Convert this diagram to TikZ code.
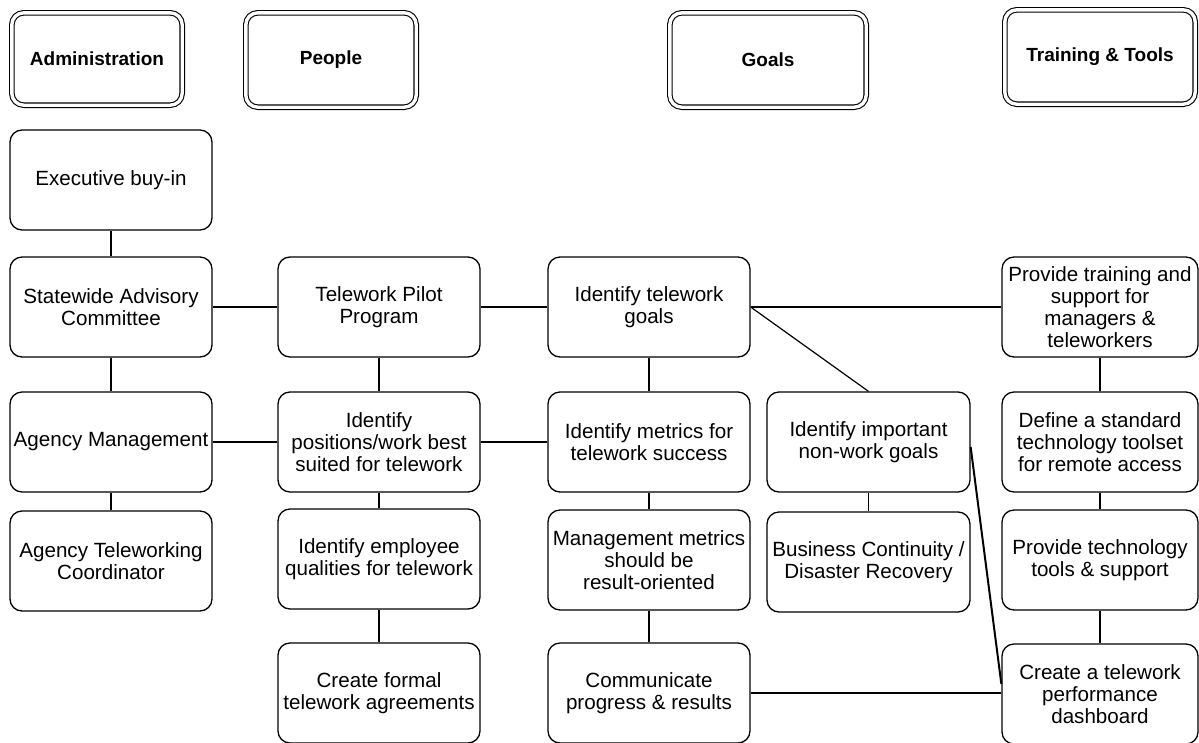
\documentclass[tikz,border=0pt]{standalone}
\usepackage{fontspec}
\setmainfont{Liberation Sans}
\begin{document}
\begin{tikzpicture}[x=1pt,y=-1pt,
  box/.style={draw, line width=1.3pt, rounded corners=12pt, align=center,
    font=\fontsize{20.6}{22}\selectfont, inner sep=1pt, minimum height=100pt},
  c1/.style={box, minimum width=202pt},
  c2/.style={box, minimum width=202pt},
  c3/.style={box, minimum width=202pt},
  c4/.style={box, minimum width=203pt},
  c5/.style={box, minimum width=196pt},
  hdr/.style={draw, double, line width=1.1pt, double distance=3.4pt,
    rounded corners=12pt, align=center, minimum height=94.4pt,
    font=\bfseries\fontsize{19}{22}\selectfont},
  link/.style={line width=1.2pt}
]
\useasboundingbox (0,0) rectangle (1199,742);

% headers
\node[hdr, minimum width=170.4pt, minimum height=92.4pt] (hadm) at (97,59) {Administration};
\node[hdr, minimum width=170.4pt] (hppl) at (331,60) {People};
\node[hdr, minimum width=196.4pt] (hgoal) at (768,60) {Goals};
\node[hdr, minimum width=190.4pt] (htt) at (1100,57) {Training \& Tools};

% column 1
\node[c1] (exec) at (111,180) {Executive buy-in};
\node[c1] (state) at (111,307) {Statewide Advisory\\Committee};
\node[c1] (agm) at (111,442) {Agency Management};
\node[c1] (coord) at (111,561) {Agency Teleworking\\Coordinator};

% column 2
\node[c2] (pilot) at (379,307) {Telework Pilot\\Program};
\node[c2] (pos) at (379,442) {Identify\\positions/work best\\suited for telework};
\node[c2] (qual) at (379,559) {Identify employee\\qualities for telework};
\node[c2] (agree) at (379,693) {Create formal\\telework agreements};

% column 3
\node[c3] (goals) at (649,307) {Identify telework\\goals};
\node[c3] (metr) at (649,442) {Identify metrics for\\telework success};
\node[c3] (mgmt) at (649,560) {Management metrics\\should be\\result-oriented};
\node[c3] (comm) at (649,693) {Communicate\\progress \& results};

% column 4
\node[c4] (nonw) at (868.5,442) {Identify important\\non-work goals};
\node[c4] (bcdr) at (868.5,562) {Business Continuity /\\Disaster Recovery};

% column 5
\node[c5] (train) at (1100,307) {Provide training and\\support for\\managers \&\\teleworkers};
\node[c5] (toolset) at (1100,442) {Define a standard\\technology toolset\\for remote access};
\node[c5] (tools) at (1100,560) {Provide technology\\tools \& support};
\node[c5] (dash) at (1100,694) {Create a telework\\performance\\dashboard};

% vertical links
\draw[link] (exec) -- (state);
\draw[link] (state) -- (agm);
\draw[link] (agm) -- (coord);
\draw[link] (pilot) -- (pos);
\draw[link] (pos) -- (qual);
\draw[link] (qual) -- (agree);
\draw[link] (goals) -- (metr);
\draw[link] (metr) -- (mgmt);
\draw[link] (mgmt) -- (comm);
\draw[link] (nonw) -- (bcdr);
\draw[link] (train) -- (toolset);
\draw[link] (toolset) -- (tools);
\draw[link] (tools) -- (dash);

% horizontal links
\draw[link] (state) -- (pilot);
\draw[link] (pilot) -- (goals);
\draw[link] (goals) -- (train);
\draw[link] (agm) -- (pos);
\draw[link] (pos) -- (metr);
\draw[link] (comm.east) -- (comm.east -| dash.west);

% diagonal links
\draw[link] (goals.east) -- (nonw.north);
\draw[line width=2pt] ([yshift=-5pt]nonw.east) -- ([yshift=10pt]dash.west);
\end{tikzpicture}
\end{document}
